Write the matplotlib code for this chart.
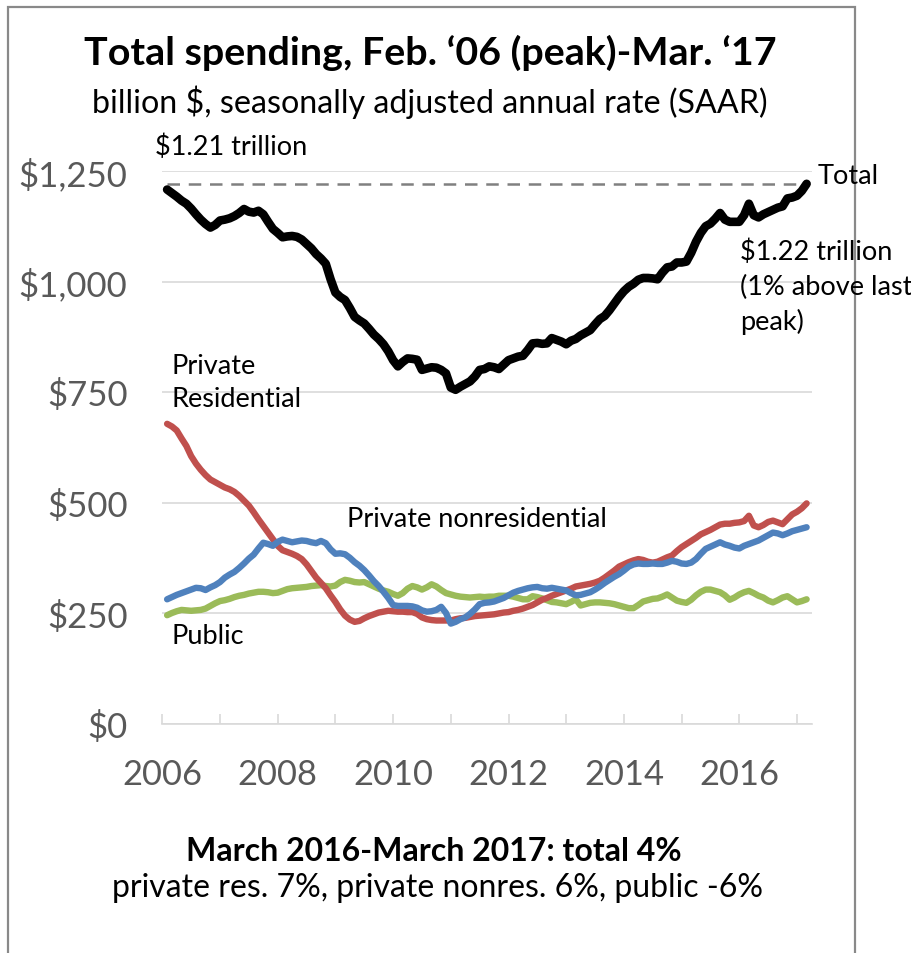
import matplotlib
matplotlib.use("Agg")
import matplotlib.pyplot as plt
from matplotlib.patches import Rectangle
import numpy as np

plt.rcParams['font.family'] = ['Lato', 'DejaVu Sans']

# ---- data (billion $, SAAR), monthly Feb 2006 .. Mar 2017 ----
total = [1208, 1200, 1192, 1183, 1176, 1165, 1152, 1140, 1130, 1122, 1128, 1138, 1140, 1143, 1148, 1155,
         1164, 1158, 1156, 1160, 1152, 1135, 1119, 1110, 1100, 1102, 1103, 1101, 1095, 1085, 1075, 1062,
         1052, 1040, 1005, 975, 965, 958, 940, 920, 912, 905, 893, 880, 870, 858, 842, 822,
         808, 818, 826, 825, 823, 800, 803, 806, 805, 800, 792, 760, 755, 762, 768, 774,
         785, 800, 802, 808, 806, 802, 812, 822, 826, 830, 832, 845, 860, 861, 859, 860,
         872, 868, 864, 858, 866, 870, 878, 884, 890, 903, 915, 922, 935, 950, 965, 978,
         988, 995, 1004, 1008, 1008, 1007, 1005, 1020, 1032, 1034, 1043, 1043, 1045, 1065, 1090, 1110,
         1125, 1131, 1142, 1155, 1140, 1135, 1135, 1135, 1150, 1176, 1150, 1145, 1152, 1157, 1162, 1167,
         1170, 1188, 1190, 1194, 1205, 1221]
private_res = [678, 672, 663, 645, 628, 605, 588, 574, 562, 552, 546, 540, 534, 530, 524, 515,
               504, 493, 478, 462, 447, 432, 417, 402, 392, 388, 384, 379, 372, 360, 345, 330,
               318, 306, 290, 275, 258, 244, 235, 230, 232, 238, 243, 247, 251, 253, 255, 254,
               253, 253, 252, 252, 248, 240, 236, 234, 233, 233, 233, 233, 236, 238, 239, 241,
               243, 244, 245, 246, 247, 249, 251, 252, 255, 257, 260, 264, 268, 274, 280, 284,
               289, 293, 297, 301, 305, 310, 312, 314, 316, 319, 323, 330, 338, 346, 355, 360,
               365, 369, 372, 370, 366, 364, 366, 371, 376, 380, 390, 399, 406, 413, 420, 428,
               433, 438, 444, 450, 452, 452, 454, 455, 458, 470, 448, 444, 449, 456, 459, 455,
               451, 462, 473, 479, 487, 498]
private_nonres = [281, 286, 291, 295, 299, 303, 307, 306, 302, 308, 313, 320, 330, 337, 343, 352,
                  362, 373, 382, 396, 409, 406, 402, 411, 416, 413, 410, 412, 414, 413, 410, 408,
                  413, 408, 394, 384, 385, 383, 375, 365, 357, 347, 335, 322, 311, 298, 284, 268,
                  266, 266, 266, 265, 262, 256, 253, 254, 257, 264, 250, 226, 230, 236, 240, 248,
                  258, 270, 273, 274, 276, 280, 284, 290, 296, 300, 303, 306, 308, 309, 306, 305,
                  307, 305, 303, 301, 295, 290, 291, 294, 297, 303, 310, 318, 325, 332, 338, 346,
                  355, 360, 362, 361, 361, 362, 361, 361, 364, 368, 366, 362, 361, 364, 372, 384,
                  395, 400, 405, 410, 405, 402, 398, 396, 402, 406, 410, 414, 420, 426, 432, 430,
                  426, 430, 435, 438, 441, 444]
public = [245, 250, 254, 257, 256, 255, 256, 257, 260, 266, 272, 277, 279, 282, 286, 289,
          291, 294, 296, 298, 298, 297, 295, 296, 300, 304, 306, 307, 308, 309, 311, 312,
          313, 311, 310, 312, 320, 325, 323, 320, 319, 320, 315, 310, 305, 301, 298, 293,
          289, 295, 305, 311, 308, 303, 308, 315, 310, 302, 295, 292, 289, 287, 286, 285,
          286, 287, 286, 287, 287, 289, 289, 289, 287, 284, 281, 281, 288, 286, 283, 279,
          275, 274, 272, 270, 275, 281, 267, 270, 273, 274, 274, 273, 272, 270, 267, 264,
          261, 261, 268, 276, 279, 282, 283, 287, 292, 285, 278, 275, 273, 280, 290, 298,
          303, 303, 300, 297, 290, 280, 285, 292, 297, 300, 295, 289, 285, 278, 274, 279,
          285, 288, 281, 274, 277, 281]

start_year, start_month = 2006, 2
y_ticks = [0, 250, 500, 750, 1000, 1250]
y_tick_labels = ['$0', '$250', '$500', '$750', '$1,000', '$1,250']
x_label_years = [2006, 2008, 2010, 2012, 2014, 2016]

n = len(total)
dates = np.array([start_year + (start_month - 1 + i) / 12.0 for i in range(n)])

W, H = 912, 954
fig = plt.figure(figsize=(W / 100, H / 100), dpi=100)

def fx(x):
    return x / W

def fy(y):
    return 1 - y / H

# outer frame
fig.patches.append(Rectangle((fx(8), fy(1000)), fx(855) - fx(8), fy(8) - fy(1000),
                             transform=fig.transFigure, fill=False,
                             edgecolor='#898989', linewidth=1.6))

ax_l, ax_r, ax_t, ax_b = 162.3, 812, 172, 724.5
ax = fig.add_axes([fx(ax_l), fy(ax_b), fx(ax_r) - fx(ax_l), fy(ax_t) - fy(ax_b)])
ax.set_xlim(2006, 2006 + (ax_r - ax_l) / 57.7)
ax.set_ylim(0, 1250)

for s in ['top', 'right', 'left']:
    ax.spines[s].set_visible(False)
ax.spines['bottom'].set_color('#d9d9d9')
ax.spines['bottom'].set_linewidth(1.2)

ax.set_yticks(y_ticks)
ax.set_yticklabels(y_tick_labels)
ax.yaxis.grid(True, color='#d9d9d9', linewidth=1.2)
ax.set_axisbelow(True)
ax.tick_params(axis='y', length=0, pad=25, labelsize=25, labelcolor='#595959')

ax.set_xticks(list(range(2006, 2018)))
ax.set_xticklabels([str(y) if y in x_label_years else '' for y in range(2006, 2018)])
ax.tick_params(axis='x', direction='in', length=7, width=1.2, color='#d9d9d9',
               pad=24.5, labelsize=24.8, labelcolor='#595959')

ax.plot(dates, private_res, color='#C0504D', lw=4.6, solid_capstyle='round', zorder=3)
ax.plot(dates, private_nonres, color='#4F81BD', lw=4.6, solid_capstyle='round', zorder=4)
ax.plot(dates, public, color='#9BBB59', lw=4.6, solid_capstyle='round', zorder=2)
ax.plot(dates, total, color='black', lw=6.2, solid_capstyle='round', zorder=5)
ax.plot([dates[0], dates[-1]], [total[-1], total[-1]], color='#808080', lw=1.8,
        dashes=(5, 3.5), zorder=1)

# titles
fig.text(fx(430), fy(53), "Total spending, Feb. \u201806 (peak)-Mar. \u201817", ha='center', va='center',
         fontsize=28.4, fontweight='bold')
fig.text(fx(430), fy(102), "billion $, seasonally adjusted annual rate (SAAR)", ha='center', va='center',
         fontsize=23.2)

# annotations
fs = 19.5
fig.text(fx(155), fy(147), "$1.21 trillion", ha='left', va='center', fontsize=fs)
fig.text(fx(818), fy(177), "Total", ha='left', va='center', fontsize=fs)
fig.text(fx(740), fy(252), "$1.22 trillion", ha='left', va='center', fontsize=fs)
fig.text(fx(740), fy(287), "(1% above last", ha='left', va='center', fontsize=fs)
fig.text(fx(740), fy(322), "peak)", ha='left', va='center', fontsize=fs)
fig.text(fx(172), fy(366), "Private", ha='left', va='center', fontsize=fs)
fig.text(fx(172), fy(400), "Residential", ha='left', va='center', fontsize=fs)
fig.text(fx(347), fy(520), "Private nonresidential", ha='left', va='center', fontsize=fs)
fig.text(fx(172), fy(637), "Public", ha='left', va='center', fontsize=fs)

fig.text(fx(434), fy(852), "March 2016-March 2017: total 4%", ha='center', va='center',
         fontsize=23, fontweight='bold')
fig.text(fx(438), fy(888), "private res. 7%, private nonres. 6%, public -6%", ha='center', va='center',
         fontsize=23)

fig.savefig("out.png", dpi=100, facecolor='white')
